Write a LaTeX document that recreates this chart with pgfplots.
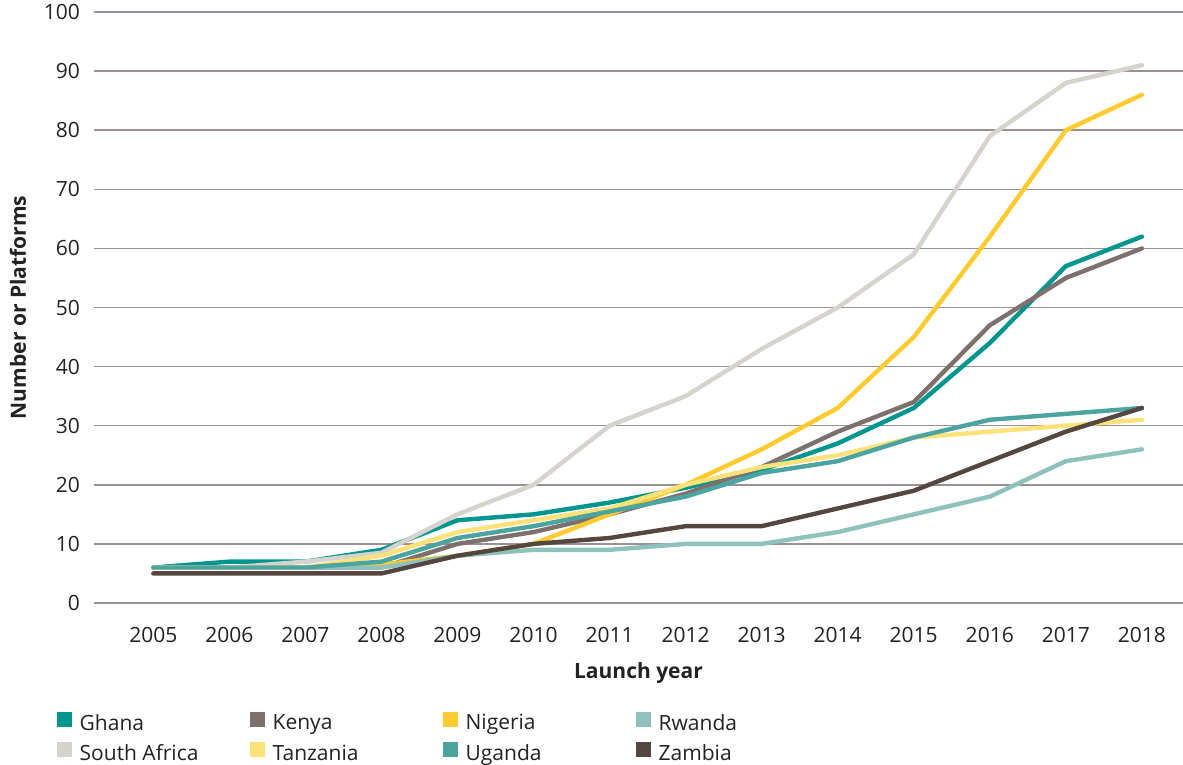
\documentclass[border=0pt]{standalone}
\usepackage{pgfplots}
\pgfplotsset{compat=1.18}
\usepackage{fontspec}
\setmainfont{Open Sans}

\definecolor{cGhana}{RGB}{0,150,143}
\definecolor{cKenya}{RGB}{125,112,109}
\definecolor{cNigeria}{RGB}{255,203,47}
\definecolor{cRwanda}{RGB}{143,193,189}
\definecolor{cSAfrica}{RGB}{214,210,204}
\definecolor{cTanzania}{RGB}{253,226,122}
\definecolor{cUganda}{RGB}{76,164,160}
\definecolor{cZambia}{RGB}{85,70,63}
\definecolor{gridc}{RGB}{155,145,145}
\definecolor{txt}{RGB}{34,34,34}

\newcommand{\legtxt}[1]{\makebox[89pt][l]{\rule[-3pt]{0pt}{9pt}\hspace{4pt}#1}}

\begin{document}
\begin{tikzpicture}
\begin{axis}[
  name=ax,
  scale only axis,
  width=544.5pt, height=295.5pt,
  xmin=2004.22, xmax=2018.54,
  ymin=0, ymax=100,
  xtick={2005,...,2018},
  ytick={0,10,...,100},
  xticklabel style={/pgf/number format/1000 sep={}, yshift=-8.5pt},
  yticklabel style={xshift=-3.5pt},
  /pgf/number format/assume math mode=true,
  tick label style={font=\fontsize{10.5}{12}\selectfont, text=txt},
  major tick length=0pt,
  axis line style={draw=none},
  ymajorgrids,
  grid style={gridc, line width=0.75pt},
  xlabel={\textbf{Launch year}},
  ylabel={\textbf{Number or Platforms}},
  label style={font=\fontsize{10.5}{12}\selectfont, text=txt},
  xlabel style={at={(axis description cs:0.5,-0.118)}, anchor=center},
  ylabel style={at={(axis description cs:-0.0698,0.5)}, anchor=center},
  every axis plot/.append style={line width=2.2pt, line cap=round, line join=round, mark=none},
  legend columns=4,
  legend cell align=left,
  legend style={at={(axis description cs:-0.0343,-0.1838)}, anchor=north west,
    draw=none, fill=none, inner sep=0pt, outer sep=0pt,
    column sep=0pt, row sep=4.5pt,
    nodes={inner sep=0pt, text=txt, font=\fontsize{10.5}{12}\selectfont}},
  legend image code/.code={\fill[#1, draw=none] (0pt,-1.5pt) rectangle (7.5pt,6pt);},
]
% Ghana
\addplot[cGhana] coordinates {(2005,6) (2006,7) (2007,7) (2008,9) (2009,14) (2010,15) (2011,17) (2012,19.5) (2013,22.5) (2014,27) (2015,33) (2016,44) (2017,57) (2018,62)};
\addlegendentry{\legtxt{Ghana}}
% Kenya
\addplot[cKenya] coordinates {(2005,6) (2006,6) (2007,6) (2008,6) (2009,10) (2010,12) (2011,15) (2012,18.5) (2013,23) (2014,29) (2015,34) (2016,47) (2017,55) (2018,60)};
\addlegendentry{\legtxt{Kenya}}
% Nigeria
\addplot[cNigeria] coordinates {(2005,6) (2006,6) (2007,6) (2008,6.5) (2009,8) (2010,10) (2011,15) (2012,20) (2013,26) (2014,33) (2015,45) (2016,62) (2017,80) (2018,86)};
\addlegendentry{\legtxt{Nigeria}}
% Rwanda
\addplot[cRwanda] coordinates {(2005,6) (2006,6) (2007,6) (2008,6) (2009,8) (2010,9) (2011,9) (2012,10) (2013,10) (2014,12) (2015,15) (2016,18) (2017,24) (2018,26)};
\addlegendentry{\legtxt{Rwanda}}
% South Africa
\addplot[cSAfrica] coordinates {(2005,6) (2006,6) (2007,7) (2008,8.5) (2009,15) (2010,20) (2011,30) (2012,35) (2013,43) (2014,50) (2015,59) (2016,79) (2017,88) (2018,91)};
\addlegendentry{\legtxt{South Africa}}
% Tanzania
\addplot[cTanzania] coordinates {(2005,6) (2006,6) (2007,6) (2008,8) (2009,12) (2010,14) (2011,16) (2012,20) (2013,23) (2014,25) (2015,28) (2016,29) (2017,30) (2018,31)};
\addlegendentry{\legtxt{Tanzania}}
% Uganda
\addplot[cUganda] coordinates {(2005,6) (2006,6) (2007,6) (2008,7) (2009,11) (2010,13) (2011,15.5) (2012,18) (2013,22) (2014,24) (2015,28) (2016,31) (2017,32) (2018,33)};
\addlegendentry{\legtxt{Uganda}}
% Zambia
\addplot[cZambia] coordinates {(2005,5) (2006,5) (2007,5) (2008,5) (2009,8) (2010,10) (2011,11) (2012,13) (2013,13) (2014,16) (2015,19) (2016,24) (2017,29) (2018,33)};
\addlegendentry{\legtxt{Zambia}}
\end{axis}
\pgfresetboundingbox
\path ([shift={(-47pt,-81pt)}]ax.south west) rectangle ([shift={(0pt,6pt)}]ax.north east);
\end{tikzpicture}
\end{document}
